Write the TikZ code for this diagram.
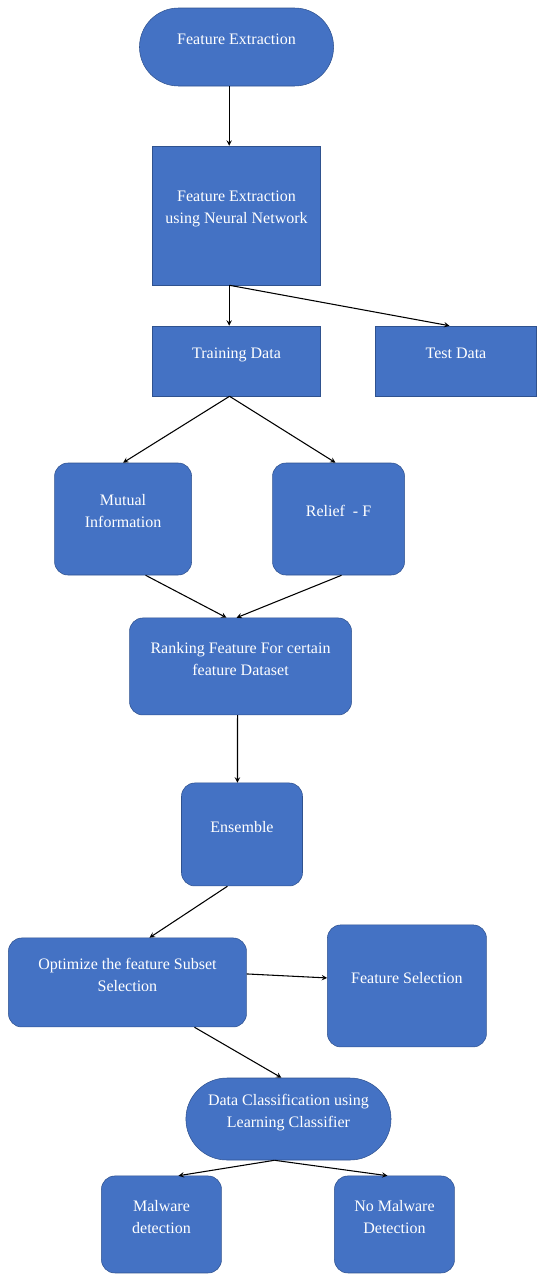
\documentclass[tikz,border=0pt]{standalone}
\usepackage{fontspec}
\setmainfont{Liberation Serif}
\usetikzlibrary{shapes.misc, arrows.meta}
\definecolor{boxblue}{HTML}{4472C4}
\definecolor{boxedge}{HTML}{2F528F}
\tikzstyle{terminal} = [rounded rectangle, align=center, text depth=12pt, draw=boxedge, fill=boxblue, text=white, font=\fontsize{12}{16.5}\selectfont]
\tikzstyle{process} = [rectangle, align=center, text depth=12pt, draw=boxedge, fill=boxblue, text=white, font=\fontsize{12}{16.5}\selectfont]
\tikzstyle{stage} = [rectangle, rounded corners=10pt, align=center, text depth=12pt, draw=boxedge, fill=boxblue, text=white, font=\fontsize{12}{16.5}\selectfont]
\tikzstyle{arrow} = [thick,->,>=stealth]

\begin{document}
\begin{tikzpicture}
			\useasboundingbox (0,0) rectangle (404.25pt,-955.5pt);
			\node (fe) [terminal, minimum width=152.25pt, minimum height=58.5pt] at (177.4pt,-35.25pt) {Feature Extraction};
			\node (fenn) [process, minimum width=126pt, minimum height=104.25pt, node distance=126.4pt, below of=fe] {Feature Extraction\\using Neural Network};
			\node (train) [process, minimum width=126pt, minimum height=52.5pt, node distance=109.1pt, below of=fenn] {Training Data};
			\node (test) [process, minimum width=120.75pt, minimum height=52.5pt, node distance=164.6pt, right of=train] {Test Data};
			\node (mutual) [stage, minimum width=102.75pt, minimum height=84pt, node distance=118.5pt, below of=train, xshift=-85.1pt] {Mutual\\Information};
			\node (relief) [stage, minimum width=99pt, minimum height=84pt, node distance=161.6pt, right of=mutual] {Relief~~- F};
			\node (rank) [stage, minimum width=166.5pt, minimum height=72.75pt, node distance=229.1pt, below of=train, xshift=3pt] {Ranking Feature For certain\\feature Dataset};
			\node (ensemble) [stage, minimum width=90.75pt, minimum height=77.25pt, node distance=126pt, below of=rank, xshift=1.1pt] {Ensemble};
			\node (optimize) [stage, minimum width=178.5pt, minimum height=66.75pt, node distance=111pt, below of=ensemble, xshift=-85.9pt] {Optimize the feature Subset\\Selection};
			\node (select) [stage, minimum width=119.25pt, minimum height=91.5pt, node distance=209.6pt, right of=optimize, yshift=-2.6pt] {Feature Selection};
			\node (classify) [terminal, minimum width=160.5pt, minimum height=61.5pt, node distance=102.4pt, below of=optimize, xshift=120.75pt] {Data Classification using\\Learning Classifier};
			\node (malware) [stage, minimum width=90pt, minimum height=72.75pt, node distance=79.1pt, below of=classify, xshift=-95.25pt] {Malware\\detection};
			\node (nomalware) [stage, minimum width=90pt, minimum height=72.75pt, node distance=174.75pt, right of=malware] {No Malware\\Detection};
			
			\draw [arrow] ([xshift=-5.5pt]fe.south) -- ([xshift=-5.5pt]fenn.north);
			\draw [arrow] ([xshift=-5.5pt]fenn.south) -- ([xshift=-5.5pt]train.north);
			\draw [arrow] ([xshift=-5.25pt]fenn.south) -- ([xshift=-4.9pt]test.north);
			\draw [arrow] ([xshift=-5.25pt]train.south) -- (mutual.north);
			\draw [arrow] ([xshift=-5.25pt]train.south) -- ([xshift=-2.25pt]relief.north);
			\draw [arrow] ([xshift=16.9pt]mutual.south) -- ([xshift=-10.5pt]rank.north);
			\draw [arrow] ([xshift=2.25pt]relief.south) -- ([xshift=-3pt]rank.north);
			\draw [arrow] ([xshift=-2.25pt]rank.south) -- ([xshift=-3.4pt]ensemble.north);
			\draw [arrow] ([xshift=-10.9pt]ensemble.south) -- ([xshift=16.5pt]optimize.north);
			\draw [arrow] ([yshift=6.4pt]optimize.east) -- ([yshift=6pt]select.west);
			\draw [arrow] ([xshift=50.25pt]optimize.south) -- ([xshift=-5.25pt]classify.north);
			\draw [arrow] ([xshift=-10.5pt]classify.south) -- ([xshift=12.75pt]malware.north);
			\draw [arrow] ([xshift=-10.5pt]classify.south) -- ([xshift=-5.25pt]nomalware.north);
		\end{tikzpicture}
\end{document}
